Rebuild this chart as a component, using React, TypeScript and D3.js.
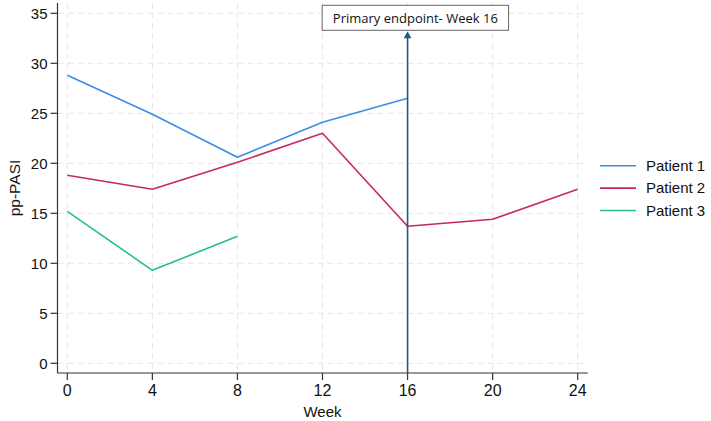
import React from "react";
import * as d3 from "d3";

// Weeks of follow-up
const weeks = [0, 4, 8, 12, 16, 20, 24];

// pp-PASI per patient at each visit
const patient1 = [
  { week: 0, value: 28.8 },
  { week: 4, value: 24.9 },
  { week: 8, value: 20.6 },
  { week: 12, value: 24.1 },
  { week: 16, value: 26.5 },
];
const patient2 = [
  { week: 0, value: 18.8 },
  { week: 4, value: 17.4 },
  { week: 8, value: 20.1 },
  { week: 12, value: 23.0 },
  { week: 16, value: 13.7 },
  { week: 20, value: 14.4 },
  { week: 24, value: 17.4 },
];
const patient3 = [
  { week: 0, value: 15.2 },
  { week: 4, value: 9.3 },
  { week: 8, value: 12.7 },
];

const yTicks = [0, 5, 10, 15, 20, 25, 30, 35];
const seriesNames = ["Patient 1", "Patient 2", "Patient 3"];
const endpointWeek = 16;
const endpointTop = 33.2;
const endpointLabel = "Primary endpoint- Week 16";

const W = 711;
const H = 421;
const colors = ["#3a8ee3", "#c8285e", "#26bf8c"];
const axisFont = "'Liberation Sans', Arial, Helvetica, sans-serif";

export default function App() {
  const x = d3.scaleLinear().domain([0, 24]).range([67.3, 577.7]);
  const y = d3.scaleLinear().domain([0, 35]).range([363.3, 13.3]);
  const xAxisY = 373;
  const yAxisX = 57.5;

  const line = d3
    .line<{ week: number; value: number }>()
    .x((d) => x(d.week))
    .y((d) => y(d.value));

  const series = [patient1, patient2, patient3];
  const ex = x(endpointWeek);
  const tipY = y(endpointTop);

  return (
    <svg
      width={W}
      height={H}
      style={{ position: "absolute", left: 0, top: 0, background: "#fff" }}
      fontFamily={axisFont}
    >
      {/* grid */}
      <g stroke="#e6e6e6" strokeWidth={1} strokeDasharray="6,4">
        {yTicks.map((t) => (
          <line key={"gy" + t} x1={yAxisX} x2={587.7} y1={y(t)} y2={y(t)} />
        ))}
        {weeks.map((t) => (
          <line key={"gx" + t} x1={x(t)} x2={x(t)} y1={3} y2={xAxisY} />
        ))}
      </g>

      {/* axes */}
      <g stroke="#333" strokeWidth={1.2} fill="none">
        <line x1={yAxisX} x2={yAxisX} y1={3} y2={xAxisY} />
        <line x1={yAxisX} x2={587.7} y1={xAxisY} y2={xAxisY} />
        {yTicks.map((t) => (
          <line key={"ty" + t} x1={yAxisX - 7} x2={yAxisX} y1={y(t)} y2={y(t)} />
        ))}
        {weeks.map((t) => (
          <line key={"tx" + t} x1={x(t)} x2={x(t)} y1={xAxisY} y2={xAxisY + 7} />
        ))}
      </g>
      <g fill="#111">
        {yTicks.map((t) => (
          <text key={"ly" + t} x={47.5} y={y(t)} dy="0.35em" textAnchor="end" fontSize={15}>
            {t}
          </text>
        ))}
        {weeks.map((t) => (
          <text key={"lx" + t} x={x(t)} y={396} textAnchor="middle" fontSize={16}>
            {t}
          </text>
        ))}
        <text x={x(12)} y={417} textAnchor="middle" fontSize={15}>
          Week
        </text>
        <text
          transform={`translate(20,188) rotate(-90)`}
          textAnchor="middle"
          fontSize={15.5}
        >
          pp-PASI
        </text>
      </g>

      {/* patient lines */}
      {series.map((s, i) => (
        <path
          key={"s" + i}
          d={line(s) || ""}
          fill="none"
          stroke={colors[i]}
          strokeWidth={1.6}
          strokeLinejoin="round"
        />
      ))}

      {/* primary endpoint marker */}
      <line x1={ex} x2={ex} y1={xAxisY} y2={tipY + 6} stroke="#1d5c80" strokeWidth={1.6} />
      <path
        d={`M${ex},${tipY} L${ex - 3.8},${tipY + 7} L${ex + 3.8},${tipY + 7} Z`}
        fill="#1d5c80"
      />
      <rect
        x={ex - 85.4}
        y={5.3}
        width={186.4}
        height={25}
        fill="#fff"
        stroke="#666"
        strokeWidth={1}
      />
      <text
        x={ex - 85.4 + 93.2}
        y={23}
        textAnchor="middle"
        fontSize={13}
        fontFamily="'Open Sans', 'Noto Sans', sans-serif"
        fill="#111"
      >
        {endpointLabel}
      </text>

      {/* legend */}
      {seriesNames.map((n, i) => (
        <g key={"lg" + i} transform={`translate(0,${165.7 + i * 22.4})`}>
          <line x1={600} x2={636} y1={0} y2={0} stroke={colors[i]} strokeWidth={1.6} />
          <text x={646} y={0} dy="0.35em" fontSize={15} fill="#111">
            {n}
          </text>
        </g>
      ))}
    </svg>
  );
}
